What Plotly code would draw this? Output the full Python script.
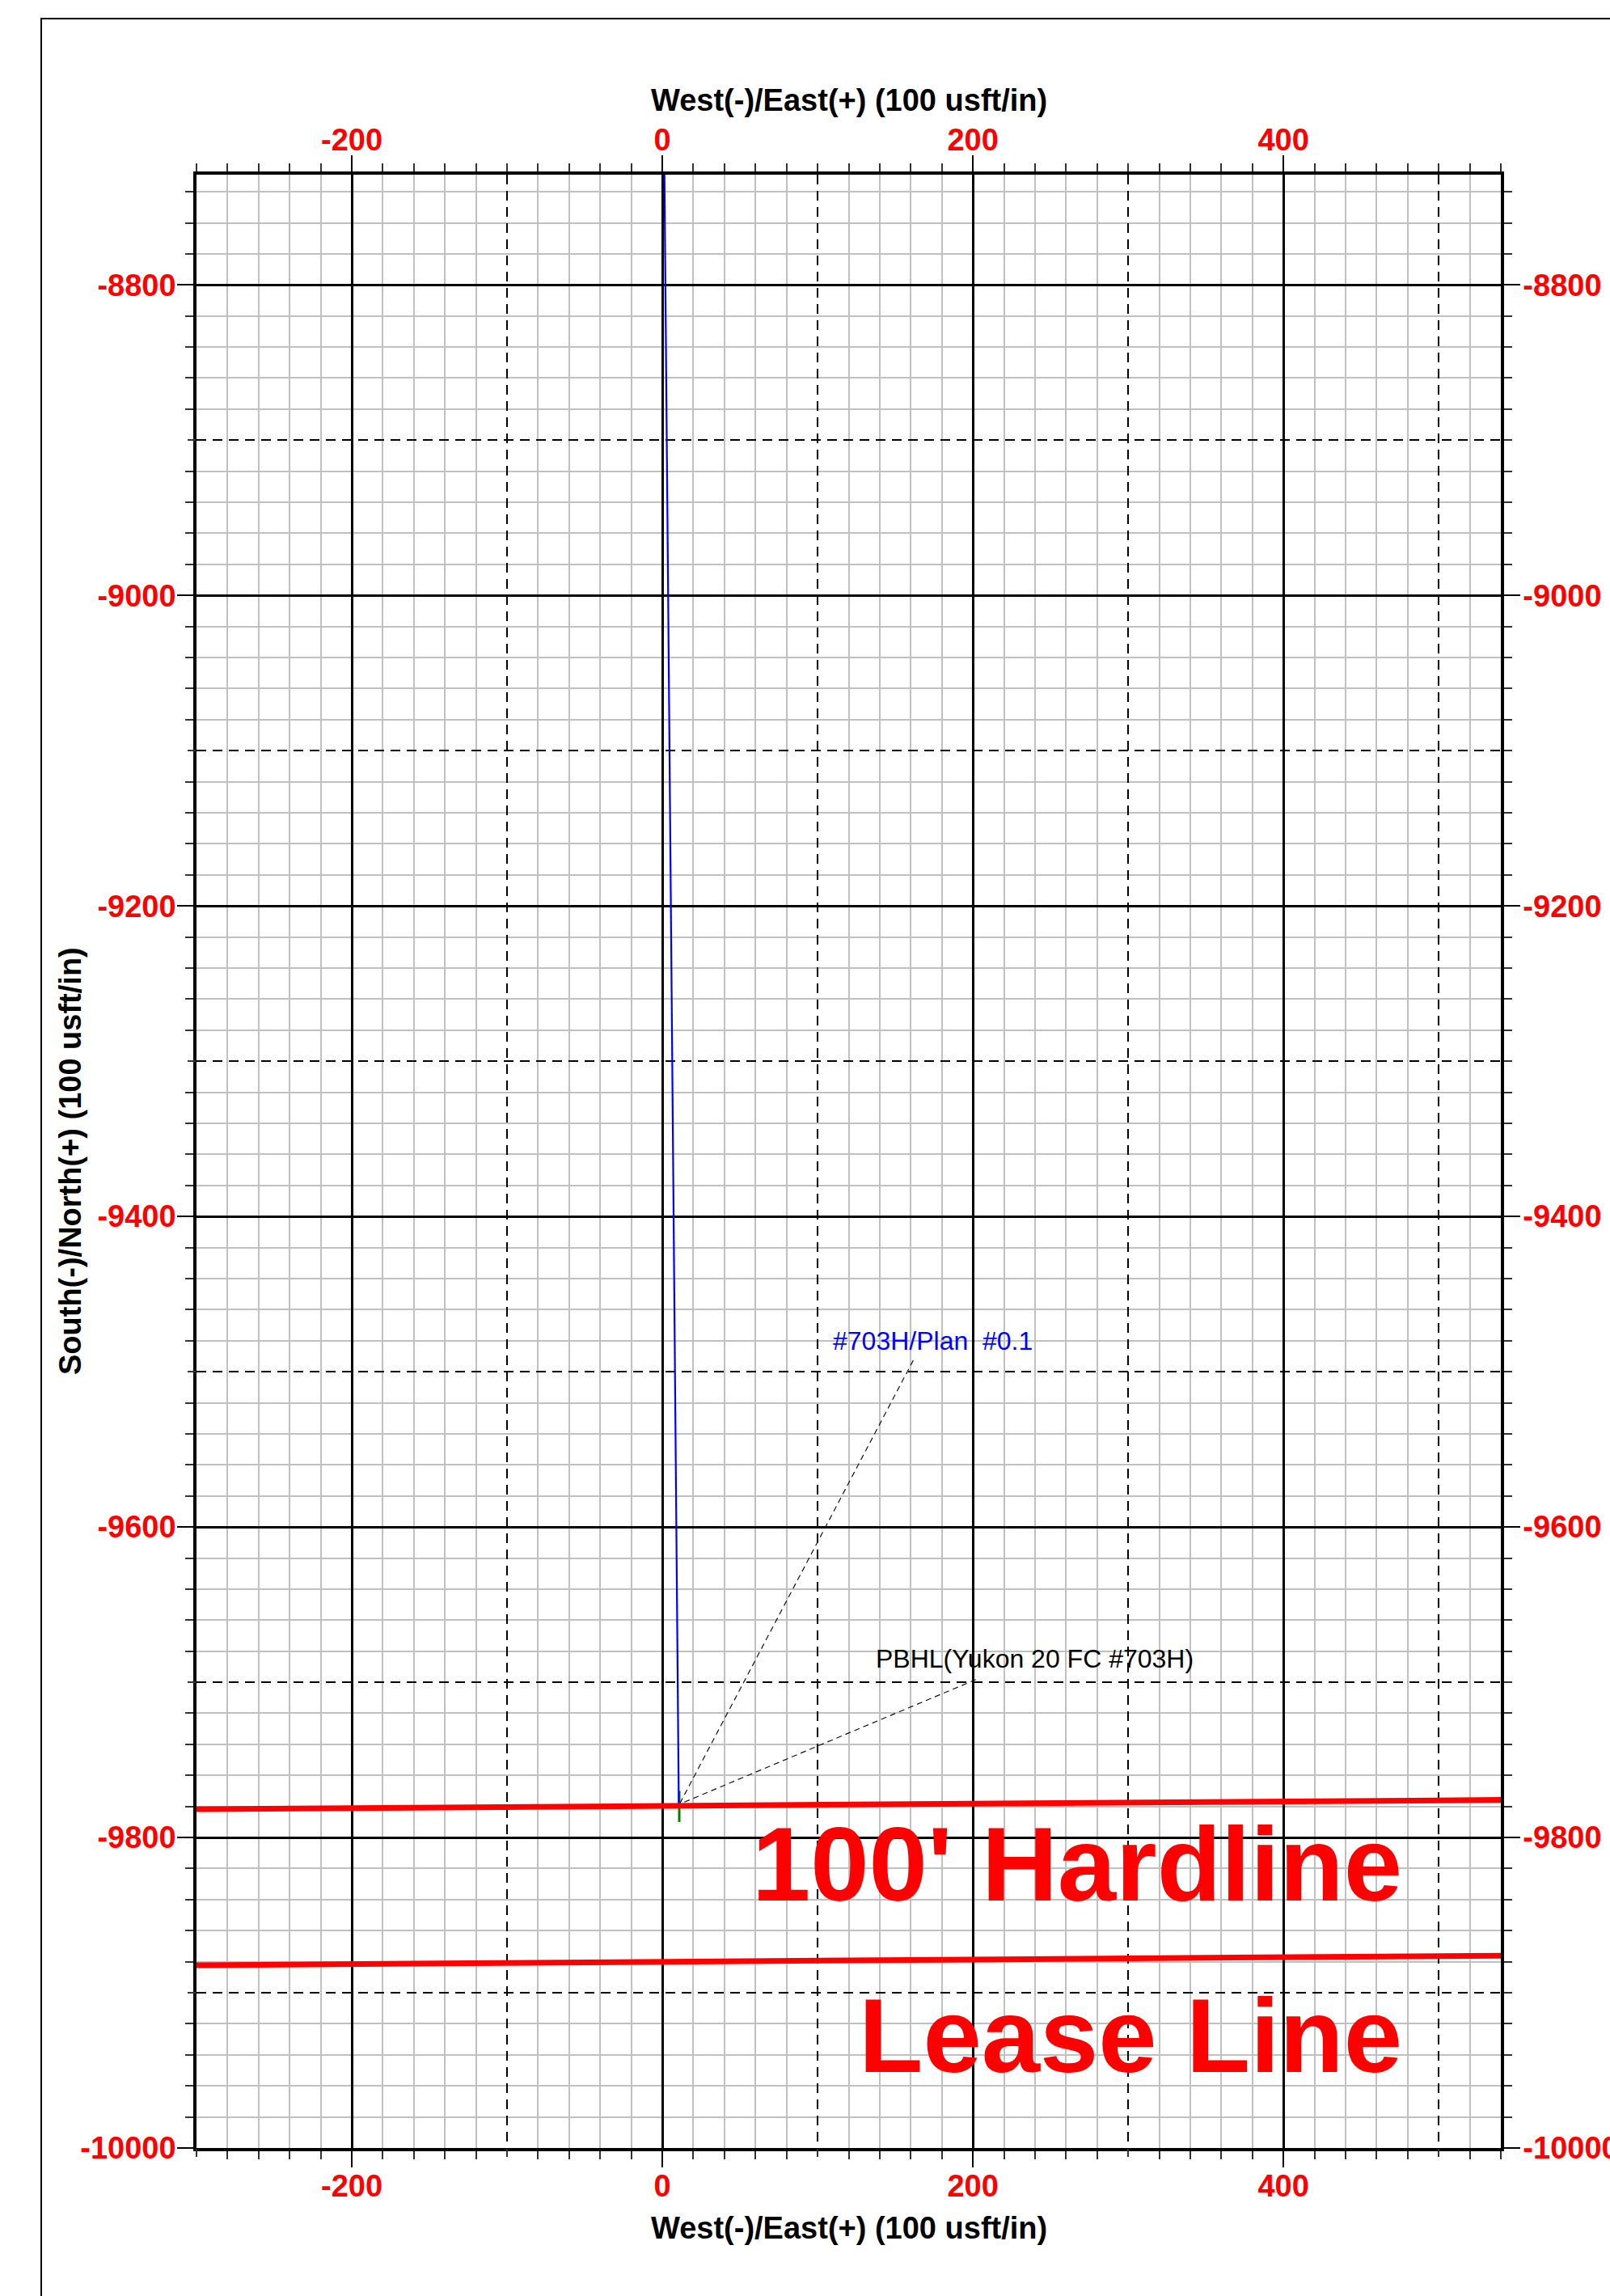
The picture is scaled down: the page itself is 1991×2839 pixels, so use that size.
import plotly.graph_objects as go

# ---------------- data ----------------
x_range = [-300, 540]
y_range = [-10000, -8729]
minor_step = 20

x_tickvals = [-200, 0, 200, 400]
x_ticktext = ["-200", "0", "200", "400"]
y_tickvals = [-10000, -9800, -9600, -9400, -9200, -9000, -8800]
y_ticktext = ["-10000", "-9800", "-9600", "-9400", "-9200", "-9000", "-8800"]

# wellbore plan (#703H/Plan #0.1)
well_x = [1.1, 10.6]
well_y = [-8700, -9779]
# final short section (green)
tail_x = [10.9, 10.9]
tail_y = [-9770, -9790]

# hardline and lease line
hardline_x = [-300, 540]
hardline_y = [-9781.8, -9775.8]
lease_x = [-300, 540]
lease_y = [-9882.3, -9876.1]

# labels and their leaders
plan_label = "#703H/Plan\u00a0 #0.1"
plan_label_pos = [108.7, -9479.9]
plan_leader_x = [161.6, 10.8]
plan_leader_y = [-9492.7, -9779.0]

pbhl_label = "PBHL(Yukon 20 FC #703H)"
pbhl_label_pos = [136.3, -9684.7]
pbhl_leader_x = [201.9, 12.8]
pbhl_leader_y = [-9698.3, -9777.8]

hard_text = "100' Hardline"
hard_text_pos = [477.5, -9817.1]
lease_text = "Lease Line"
lease_text_pos = [477.5, -9927.6]

x_title = "West(-)/East(+) (100 usft/in)"
y_title = "South(-)/North(+) (100 usft/in)"

# ---------------- figure ----------------
FONT = "Liberation Sans, Arial, sans-serif"
RED = "#ff0000"


def minor_vals(lo, hi):
    v = []
    k = int(lo // minor_step) * minor_step
    while k <= hi:
        if k % 100 != 0:
            v.append(k)
        k += minor_step
    return v


def hundred_vals(lo, hi):
    v = []
    k = int(lo // 100) * 100
    while k <= hi:
        if k % 200 != 0:
            v.append(k)
        k += 100
    return v


fig = go.Figure()

fig.add_trace(go.Scatter(x=tail_x, y=tail_y, mode="lines",
                         line=dict(color="#008000", width=3), showlegend=False, hoverinfo="skip"))
fig.add_trace(go.Scatter(x=well_x, y=well_y, mode="lines",
                         line=dict(color="#0000ff", width=2.2), showlegend=False, hoverinfo="skip"))
fig.add_trace(go.Scatter(x=plan_leader_x, y=plan_leader_y, mode="lines",
                         line=dict(color="#111111", width=1.2, dash="7px,5px"),
                         showlegend=False, hoverinfo="skip"))
fig.add_trace(go.Scatter(x=pbhl_leader_x, y=pbhl_leader_y, mode="lines",
                         line=dict(color="#111111", width=1.2, dash="7px,5px"),
                         showlegend=False, hoverinfo="skip"))
fig.add_trace(go.Scatter(x=hardline_x, y=hardline_y, mode="lines",
                         line=dict(color=RED, width=7), showlegend=False, hoverinfo="skip"))
fig.add_trace(go.Scatter(x=lease_x, y=lease_y, mode="lines",
                         line=dict(color=RED, width=7), showlegend=False, hoverinfo="skip"))

# dummy traces for overlay axes
fig.add_trace(go.Scatter(x=[], y=[], xaxis="x2", yaxis="y2", showlegend=False))
fig.add_trace(go.Scatter(x=[], y=[], xaxis="x3", yaxis="y3", showlegend=False))

tickfont = dict(family=FONT, size=38, color=RED, weight="bold")

common = dict(ticks="outside", ticklen=20, tickwidth=2, tickcolor="black", tickfont=tickfont,
              zeroline=False, showline=True, linewidth=3.5, linecolor="black",
              automargin=False)
x_major = dict(tickmode="array", tickvals=x_tickvals, ticktext=x_ticktext, **common)
y_major = dict(tickmode="array", tickvals=y_tickvals, ticktext=y_ticktext, **common)

fig.update_layout(
    width=1991, height=2839,
    margin=dict(l=243, r=135, t=216, b=183, autoexpand=False),
    paper_bgcolor="white", plot_bgcolor="white",
    showlegend=False,
    xaxis=dict(range=x_range, side="bottom", anchor="y", showgrid=True,
               gridcolor="black", gridwidth=2.5, ticklabelstandoff=-9,
               minor=dict(tickmode="array", tickvals=minor_vals(*x_range), ticks="outside",
                          ticklen=10, tickwidth=1.5, tickcolor="#333333",
                          showgrid=True, gridcolor="#c0c0c0", gridwidth=1.5),
               **x_major),
    yaxis=dict(range=y_range, side="left", anchor="x", showgrid=True,
               gridcolor="black", gridwidth=2.5, ticklabelstandoff=-6,
               minor=dict(tickmode="array", tickvals=minor_vals(*y_range), ticks="outside",
                          ticklen=10, tickwidth=1.5, tickcolor="#333333",
                          showgrid=True, gridcolor="#c0c0c0", gridwidth=1.5),
               **y_major),
    xaxis2=dict(range=x_range, side="top", overlaying="x", anchor="y", showgrid=False,
                ticklabelstandoff=-9,
                minor=dict(tickmode="linear", tick0=0, dtick=minor_step, ticks="outside",
                           ticklen=10, tickwidth=1.5, tickcolor="#333333", showgrid=False),
                **x_major),
    yaxis2=dict(range=y_range, side="right", overlaying="y", anchor="x", showgrid=False,
                ticklabelstandoff=-4,
                minor=dict(tickmode="linear", tick0=0, dtick=minor_step, ticks="outside",
                           ticklen=10, tickwidth=1.5, tickcolor="#333333", showgrid=False),
                **y_major),
    xaxis3=dict(range=x_range, overlaying="x", anchor="y", side="bottom", automargin=False,
                tickmode="array", tickvals=hundred_vals(*x_range),
                ticks="outside", ticklen=10, tickwidth=1.5, tickcolor="#333333",
                showticklabels=False, showgrid=True, gridcolor="black", gridwidth=2,
                griddash="12px,8px", zeroline=False, showline=False),
    yaxis3=dict(range=y_range, overlaying="y", anchor="x", side="left", automargin=False,
                tickmode="array", tickvals=hundred_vals(*y_range),
                ticks="outside", ticklen=10, tickwidth=1.5, tickcolor="#333333",
                showticklabels=False, showgrid=True, gridcolor="black", gridwidth=2,
                griddash="12px,8px", zeroline=False, showline=False),
)

title_font = dict(family=FONT, size=38, color="black", weight="bold")
annos = [
    dict(text=x_title, xref="paper", yref="paper", x=0.5, y=1.0377,
         xanchor="center", yanchor="middle", showarrow=False, font=title_font),
    dict(text=x_title, xref="paper", yref="paper", x=0.5, y=-0.0404,
         xanchor="center", yanchor="middle", showarrow=False, font=title_font),
    dict(text=y_title, xref="paper", yref="paper", x=-0.0967, y=0.5, textangle=-90,
         xanchor="center", yanchor="middle", showarrow=False, font=title_font),
    dict(text=plan_label, x=plan_label_pos[0], y=plan_label_pos[1], xref="x", yref="y",
         xanchor="left", yanchor="middle", showarrow=False,
         font=dict(family=FONT, size=32, color="#0000ff")),
    dict(text=pbhl_label, x=pbhl_label_pos[0], y=pbhl_label_pos[1], xref="x", yref="y",
         xanchor="left", yanchor="middle", showarrow=False,
         font=dict(family=FONT, size=32, color="black")),
    dict(text=hard_text, x=hard_text_pos[0], y=hard_text_pos[1], xref="x", yref="y",
         xanchor="right", yanchor="middle", showarrow=False,
         font=dict(family=FONT, size=130, color=RED, weight="bold")),
    dict(text=lease_text, x=lease_text_pos[0], y=lease_text_pos[1], xref="x", yref="y",
         xanchor="right", yanchor="middle", showarrow=False,
         font=dict(family=FONT, size=130, color=RED, weight="bold")),
]
fig.update_layout(annotations=annos)

# outer frame (top and left edges visible, extends past the page)
fig.add_shape(type="rect", xref="paper", yref="paper",
              x0=(51 - 243) / 1613, x1=1.3, y0=-0.3, y1=(2656 - 23) / 2440,
              line=dict(color="black", width=2), fillcolor="rgba(0,0,0,0)", layer="above")

fig.write_html("out.html", config={"displayModeBar": False},
               post_script="document.body.style.margin='0px';document.body.style.overflow='hidden';")
